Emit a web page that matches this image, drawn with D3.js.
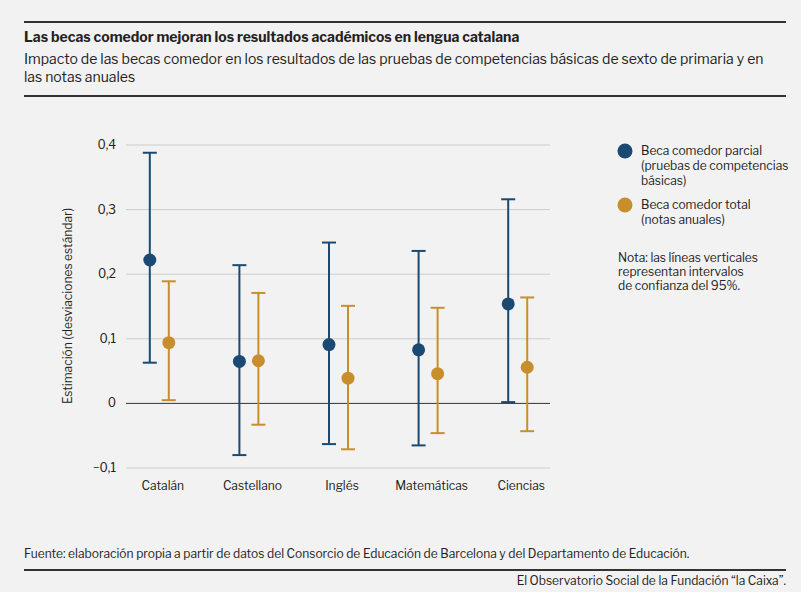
<!DOCTYPE html>
<html><head><meta charset="utf-8">
<script src="https://cdn.jsdelivr.net/npm/d3@7"></script>
<style>body{margin:0;background:#f2f2f2;font-family:"Libre Franklin","Roboto",sans-serif}</style>
</head><body><svg id="c" width="801" height="592"></svg>
<script>
const categories=["Catalán","Castellano","Inglés","Matemáticas","Ciencias"];
const parcialEst=[0.222,0.065,0.091,0.083,0.154];
const parcialLow=[0.063,-0.080,-0.063,-0.065,0.002];
const parcialHigh=[0.388,0.214,0.249,0.236,0.316];
const totalEst=[0.094,0.066,0.039,0.046,0.056];
const totalLow=[0.005,-0.033,-0.071,-0.046,-0.043];
const totalHigh=[0.189,0.171,0.151,0.148,0.164];
const yTicks=[-0.1,0,0.1,0.2,0.3,0.4];
const blue="#1a4a72",orange="#c98e2c";
const svg=d3.select("#c");
svg.append("rect").attr("width",801).attr("height",592).attr("fill","#f2f2f2");
const t=(x,y,s,o={})=>svg.append("text").attr("x",x).attr("y",y).text(s).attr("font-size",o.fs||13).attr("fill","#222").attr("font-weight",o.fw||"normal").attr("text-anchor",o.a||"start");
svg.append("line").attr("x1",24).attr("x2",786).attr("y1",22).attr("y2",22).attr("stroke","#333").attr("stroke-width",2);
t(24,42,"Las becas comedor mejoran los resultados académicos en lengua catalana",{fw:"bold",fs:14});
t(24,64,"Impacto de las becas comedor en los resultados de las pruebas de competencias básicas de sexto de primaria y en",{fs:14});
t(24,82,"las notas anuales",{fs:14});
svg.append("line").attr("x1",24).attr("x2",786).attr("y1",96).attr("y2",96).attr("stroke","#333").attr("stroke-width",2);
const y=d3.scaleLinear().domain([-0.1,0.4]).range([468,145]);
const x=d3.scaleBand().domain(categories).range([118,566]);
const g=svg.append("g");
yTicks.forEach(v=>{
 g.append("line").attr("x1",126).attr("x2",550).attr("y1",y(v)).attr("y2",y(v)).attr("stroke",v===0?"#333":"#ccc");
 t(116,y(v)+4,v===0?"0":d3.format(".1f")(v).replace(".",","),{a:"end",fs:12});
});
categories.forEach((c,i)=>t(x(c)+x.bandwidth()/2,490,c,{a:"middle",fs:12}));
svg.append("text").attr("transform","translate(72,306) rotate(-90)").attr("text-anchor","middle").attr("font-size",12).attr("fill","#222").text("Estimación (desviaciones estándar)");
function series(est,lo,hi,off,col){
 categories.forEach((c,i)=>{
  const cx=x(c)+x.bandwidth()/2+off;
  g.append("line").attr("x1",cx).attr("x2",cx).attr("y1",y(lo[i])).attr("y2",y(hi[i])).attr("stroke",col).attr("stroke-width",2);
  [lo[i],hi[i]].forEach(v=>g.append("line").attr("x1",cx-7).attr("x2",cx+7).attr("y1",y(v)).attr("y2",y(v)).attr("stroke",col).attr("stroke-width",2));
  g.append("circle").attr("cx",cx).attr("cy",y(est[i])).attr("r",6.5).attr("fill",col);
 });
}
series(parcialEst,parcialLow,parcialHigh,-13,blue);
series(totalEst,totalLow,totalHigh,6,orange);
svg.append("circle").attr("cx",625).attr("cy",151).attr("r",7.5).attr("fill",blue);
t(641,155,"Beca comedor parcial",{fs:12});t(641,170,"(pruebas de competencias",{fs:12});t(641,185,"básicas)",{fs:12});
svg.append("circle").attr("cx",625).attr("cy",205).attr("r",7.5).attr("fill",orange);
t(641,209,"Beca comedor total",{fs:12});t(641,224,"(notas anuales)",{fs:12});
t(618,262,"Nota: las líneas verticales",{fs:12});t(618,276,"representan intervalos",{fs:12});t(618,290,"de confianza del 95%.",{fs:12});
t(24,558,"Fuente: elaboración propia a partir de datos del Consorcio de Educación de Barcelona y del Departamento de Educación.",{fs:12});
svg.append("line").attr("x1",24).attr("x2",786).attr("y1",570).attr("y2",570).attr("stroke","#333").attr("stroke-width",2);
t(786,585,"El Observatorio Social de la Fundación “la Caixa”.",{fs:12,a:"end"});
</script></body></html>
